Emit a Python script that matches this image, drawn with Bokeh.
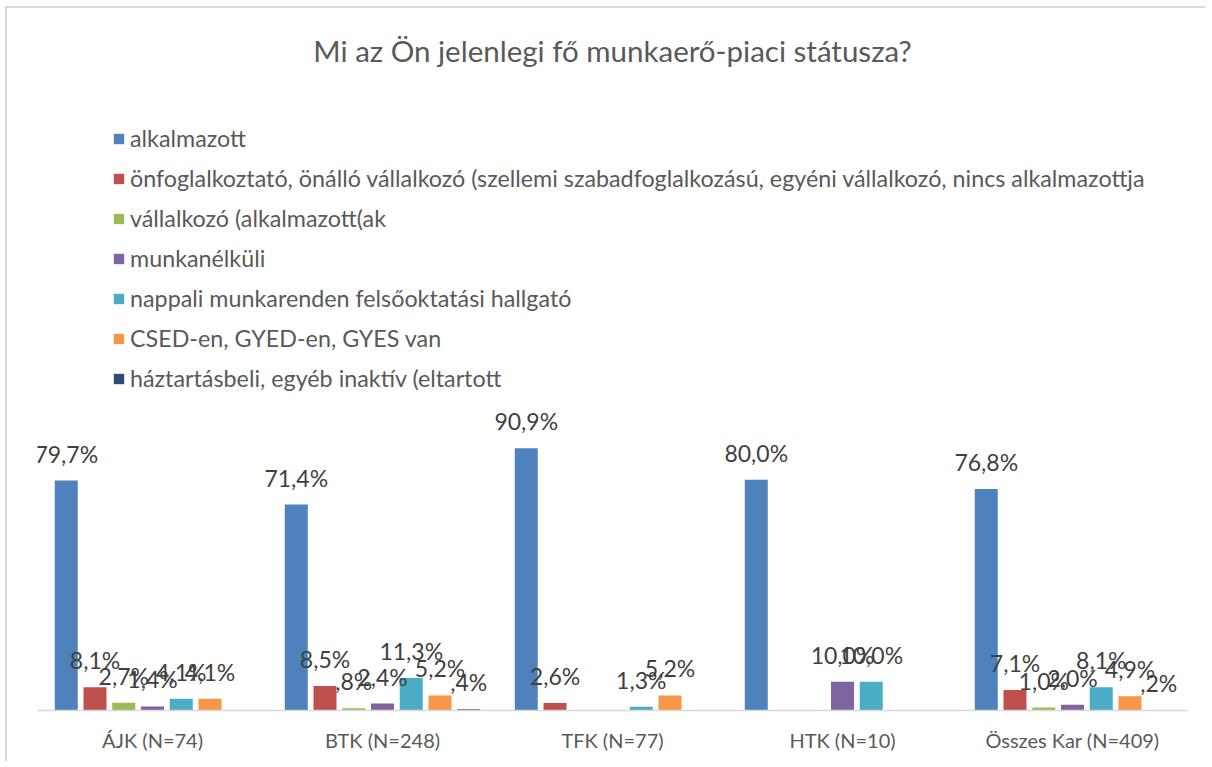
from bokeh.plotting import figure
from bokeh.models import ColumnDataSource, FactorRange, Range1d, Legend, LegendItem
from bokeh.transform import dodge
from bokeh.core.properties import value
from bokeh.embed import file_html
from bokeh.resources import INLINE

title_text = "Mi az Ön jelenlegi fő munkaerő-piaci státusza?"
categories = ["ÁJK (N=74)", "BTK (N=248)", "TFK (N=77)", "HTK (N=10)", "Összes Kar (N=409)"]
series_names = [
    "alkalmazott",
    "önfoglalkoztató, önálló vállalkozó (szellemi szabadfoglalkozású, egyéni vállalkozó, nincs alkalmazottja",
    "vállalkozó (alkalmazott(ak",
    "munkanélküli",
    "nappali munkarenden felsőoktatási hallgató",
    "CSED-en, GYED-en, GYES van",
    "háztartásbeli, egyéb inaktív (eltartott",
]
alkalmazott = [79.7, 71.4, 90.9, 80.0, 76.8]
onfoglalkoztato = [8.1, 8.5, 2.6, 0.0, 7.1]
vallalkozo = [2.7, 0.8, 0.0, 0.0, 1.0]
munkanelkuli = [1.4, 2.4, 0.0, 10.0, 2.0]
nappali = [4.1, 11.3, 1.3, 10.0, 8.1]
csed = [4.1, 5.2, 5.2, 0.0, 4.9]
haztartasbeli = [0.0, 0.4, 0.0, 0.0, 0.2]
series_values = [alkalmazott, onfoglalkoztato, vallalkozo, munkanelkuli, nappali, csed, haztartasbeli]
colors = ["#4F81BD", "#C0504D", "#9BBB59", "#8064A2", "#4BACC6", "#F79646", "#2C4D75"]

FONT = "Lato"
TEXT_COLOR = "#404040"


def fmt(v):
    s = f"{v:.1f}".replace(".", ",")
    if s.startswith("0,"):
        s = s[1:]
    return s + "%"


p = figure(
    x_range=FactorRange(*categories, range_padding=0, factor_padding=0),
    y_range=Range1d(0, 214.9),
    width=1200, height=755,
    output_backend="svg", toolbar_location=None,
    min_border_left=30, min_border_right=20, min_border_bottom=53, min_border_top=80,
    title=title_text,
)
p.styles = {"border-left": "2px solid #d9d9d9", "border-top": "2px solid #d9d9d9",
            "margin-left": "5px", "margin-top": "6px"}
p.title.align = "center"
p.title.text_font = FONT
p.title.text_font_size = "29.5px"
p.title.text_font_style = "normal"
p.title.text_color = "#595959"
p.title.standoff = 45

p.outline_line_color = None
p.xgrid.visible = False
p.ygrid.visible = False
p.yaxis.visible = False
p.xaxis.axis_line_color = "#d9d9d9"
p.xaxis.axis_line_width = 1.5
p.xaxis.major_tick_line_color = None
p.xaxis.minor_tick_line_color = None
p.xaxis.major_tick_out = 0
p.xaxis.major_tick_in = 0
p.xaxis.axis_label_standoff = 0
p.xaxis.major_label_text_font = FONT
p.xaxis.major_label_text_font_size = "20px"
p.xaxis.major_label_text_color = "#595959"
p.xaxis.major_label_standoff = 17

step = 0.125
bar_w = 0.1
items = []
text_sources = []
for i, (name, vals, col) in enumerate(zip(series_names, series_values, colors)):
    off = (i - 3) * step
    src = ColumnDataSource(dict(cat=categories, val=vals))
    r = p.vbar(x=dodge("cat", off, range=p.x_range), top="val", width=bar_w, source=src,
               fill_color=col, line_color=None)
    items.append(LegendItem(label=name, renderers=[r]))
    lab_cats = [c for c, v in zip(categories, vals) if v > 0]
    lab_vals = [v for v in vals if v > 0]
    text_sources.append((off, ColumnDataSource(dict(cat=lab_cats, val=lab_vals,
                                                     lab=[fmt(v) for v in lab_vals]))))

for off, tsrc in text_sources:
    p.text(x=dodge("cat", off, range=p.x_range), y="val", text="lab", source=tsrc,
           text_align="center", text_baseline="middle", y_offset=-27,
           text_font=value(FONT), text_font_size="23px", text_color=TEXT_COLOR)

legend = Legend(items=items, location=(75, 318), orientation="vertical",
                glyph_width=13, glyph_height=13, label_standoff=5, label_height=28,
                spacing=12, padding=0, margin=0,
                label_text_font=FONT, label_text_font_size="23.3px", label_text_color="#595959",
                border_line_color=None, background_fill_alpha=0)
p.add_layout(legend)

open("out.html", "w").write(file_html(p, INLINE))
